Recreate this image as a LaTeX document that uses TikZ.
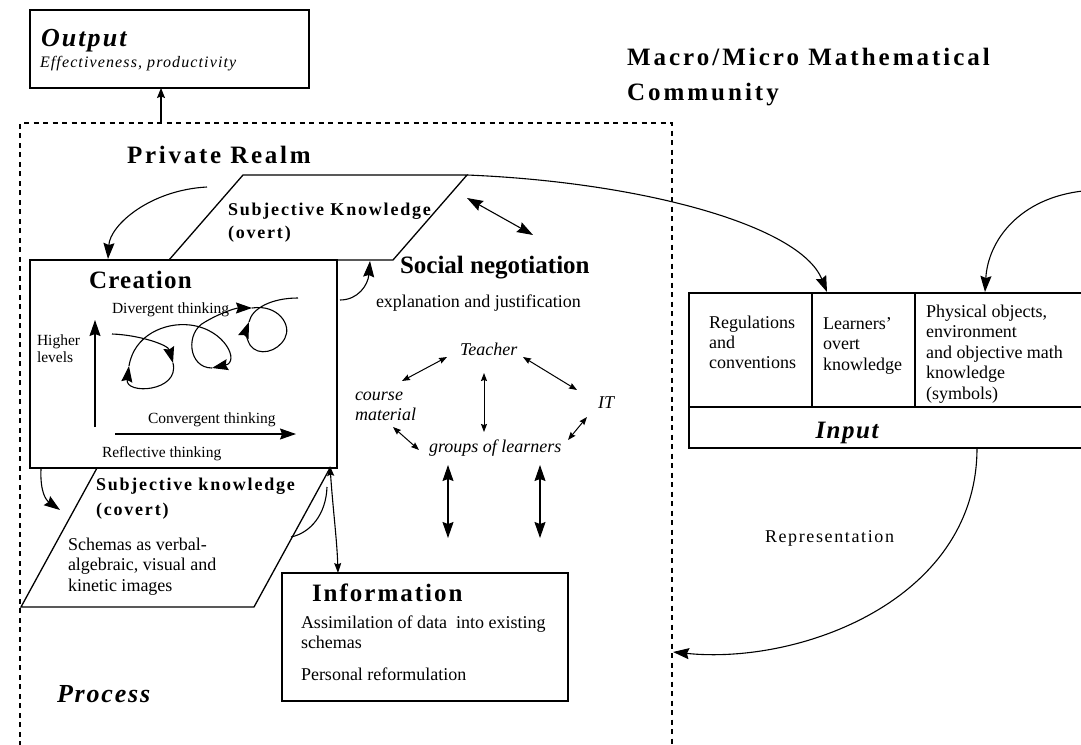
\documentclass[tikz,border=0pt]{standalone}
\usepackage{fontspec}
\setmainfont{Liberation Serif}
\usetikzlibrary{arrows.meta}
\newcommand\fsz[2]{\fontsize{#1}{#2}\selectfont}
\newcommand\mlines[1]{\begin{tabular}[t]{@{}l@{}}#1\end{tabular}}
\tikzset{
  every node/.style={inner sep=0pt, outer sep=0pt},
  txt/.style={anchor=base west},
  boxline/.style={line width=1.3pt},
  frame/.style={line width=1.4pt, dash pattern=on 5pt off 4.5pt},
  conn/.style={line width=1.1pt},
  bigarr/.style={conn, -{Stealth[length=16pt,width=11pt,inset=2pt]}},
  bigdbl/.style={conn, {Stealth[length=16pt,width=11pt,inset=2pt]}-{Stealth[length=16pt,width=11pt,inset=2pt]}},
  medarr/.style={conn, -{Stealth[length=10pt,width=8pt,inset=1.5pt]}},
  meddbl/.style={conn, {Stealth[length=10pt,width=7pt,inset=1.5pt]}-{Stealth[length=10pt,width=7pt,inset=1.5pt]}},
  smldbl/.style={line width=1pt, {Stealth[length=8pt,width=6pt,inset=1pt]}-{Stealth[length=8pt,width=6pt,inset=1pt]}},
  heading/.style={txt, font=\fsz{25}{35}\bfseries\addfontfeatures{LetterSpace=#1}},
  heading/.default=10,
  boldit/.style={txt, font=\fsz{26}{28}\bfseries\itshape\addfontfeatures{LetterSpace=#1}},
  boldit/.default=7,
  subhead/.style={txt, font=\fsz{18}{#1}\bfseries\addfontfeatures{LetterSpace=10}},
  body/.style={txt, font=\fsz{18}{20.5}},
  small/.style={txt, font=\fsz{15.5}{17}},
  soc/.style={txt, font=\fsz{18}{20}\itshape},
}
\begin{document}
\begin{tikzpicture}[x=1pt,y=-1pt]
\useasboundingbox (0,0) rectangle (1081,744);
\clip (0,0) rectangle (1081,744);

% ---------- Output ----------
\node (output) [draw, boxline, minimum width=279pt, minimum height=78pt, anchor=north west] at (30,10) {};
\node (outtitle) [boldit=8] at (41,46) {Output};
\node (outtext) [txt, font=\fsz{16}{18}\itshape\addfontfeatures{LetterSpace=7}] at (40,67) {Effectiveness, productivity};

% ---------- Process frame (open at the bottom) ----------
\coordinate (fbl) at (20,746);
\coordinate (ftl) at (20,123);
\coordinate (ftr) at (672,123);
\coordinate (fbr) at (672,746);
\draw[frame] (fbl) -- (ftl) -- (ftr) -- (fbr);
\coordinate (outfoot) at (161,123);
\draw[medarr] (outfoot) -- (outfoot |- output.south);

\node (private) [heading=11] at (127,163) {Private Realm};
\node (macro) [heading=12] at (627,65) {\mlines{Macro/Micro Mathematical\\Community}};
\node (process) [boldit=7] at (57,702) {Process};

% ---------- Subjective knowledge (overt) ----------
\coordinate (ov1) at (243,175);
\coordinate (ov2) at (467,175);
\coordinate (ov3) at (393,260);
\coordinate (ov4) at (169,260);
\draw[boxline] (ov1) -- (ov2) -- (ov3) -- (ov4) -- cycle;
\node (overt) [subhead=23] at (228,215) {\mlines{Subjective Knowledge\\(overt)}};

% ---------- Creation ----------
\node (creation) [draw, boxline, fill=white, minimum width=307pt, minimum height=208pt, anchor=north west] at (30,260) {};
\node (creatitle) [heading=5] at (89,288) {Creation};
\node (diverg) [small] at (112,313) {Divergent thinking};
\node (higher) [small] at (37,345) {\mlines{Higher\\levels}};
\node (converg) [small] at (148,423) {Convergent thinking};
\node (reflect) [small] at (102,457) {Reflective thinking};

\coordinate (vup0) at (95,427);
\coordinate (vup1) at (95,320);
\draw[bigarr] (vup0) -- (vup1);
\coordinate (hr0) at (115,434);
\coordinate (hr1) at (296,434);
\draw[bigarr] (hr0) -- (hr1);

% spiral of thinking
\coordinate (s0) at (112,334);
\coordinate (s1) at (173,363);
\coordinate (s2) at (129,366);
\coordinate (s3) at (212,368);
\coordinate (s4) at (252,308);
\coordinate (s5) at (249,322);
\coordinate (s6) at (298,298);
\draw[bigarr] (s0) .. controls (140,335) and (168,345) .. (s1);
\draw[bigarr] (s1) .. controls (180,392) and (125,395) .. (s2);
\draw[bigarr] (s2) .. controls (134,335) and (165,322) .. (190,325) .. controls (225,329) and (240,362) .. (s3);
\draw[bigarr] (s3) .. controls (188,368) and (185,332) .. (205,322) .. controls (220,313) and (236,308) .. (s4);
\draw[bigarr] (s4) .. controls (278,304) and (292,325) .. (285,338) .. controls (278,352) and (258,357) .. (250,345) .. controls (246,338) and (246,330) .. (s5);
\draw[conn] (s5) .. controls (252,308) and (272,298) .. (s6);

% arrow from the private realm into creation
\coordinate (pr0) at (207,187);
\coordinate (pr1) at (108,259);
\draw[bigarr] (pr0) .. controls (150,190) and (110,225) .. (pr1);

% ---------- Social negotiation ----------
\node (social) [heading=0] at (400,273) {Social negotiation};
\node (explain) [body] at (376,307) {explanation and justification};
\coordinate (ex0) at (340,300);
\coordinate (ex1) at (370,261);
\draw[bigarr] (ex0) .. controls (358,300) and (368,285) .. (ex1);
\coordinate (on0) at (467,198);
\coordinate (on1) at (533,235);
\draw[bigdbl] (on0) -- (on1);

\node (teacher) [soc] at (460,355) {Teacher};
\node (course) [soc] at (355,400) {\mlines{course\\material}};
\node (it) [soc] at (598,408) {IT};
\node (groups) [soc] at (429,452) {groups of learners};

\coordinate (tc0) at (447,357);
\coordinate (tc1) at (402,381);
\draw[smldbl] (tc0) -- (tc1);
\coordinate (tg0) at (484,373);
\coordinate (tg1) at (484,432);
\draw[smldbl] (tg0) -- (tg1);
\coordinate (ti0) at (523,357);
\coordinate (ti1) at (577,390);
\draw[smldbl] (ti0) -- (ti1);
\coordinate (ig0) at (587,417);
\coordinate (ig1) at (568,440);
\draw[smldbl] (ig0) -- (ig1);
\coordinate (cg0) at (393,427);
\coordinate (cg1) at (419,450);
\draw[smldbl] (cg0) -- (cg1);

\coordinate (ga0) at (448,465);
\coordinate (ga1) at (448,538);
\draw[bigdbl] (ga0) -- (ga1);
\coordinate (gb0) at (540,465);
\coordinate (gb1) at (540,538);
\draw[bigdbl] (gb0) -- (gb1);

% ---------- Subjective knowledge (covert) ----------
\coordinate (cv1) at (97,468);
\coordinate (cv2) at (330,468);
\coordinate (cv3) at (254,607);
\coordinate (cv4) at (21,607);
\draw[boxline] (cv1) -- (cv2) -- (cv3) -- (cv4) -- cycle;
\node (covert) [subhead=25] at (96,490) {\mlines{Subjective knowledge\\(covert)}};
\node (schemas) [body] at (68,550) {\mlines{Schemas as verbal-\\algebraic, visual and\\kinetic images}};
\coordinate (ca0) at (327,487);
\coordinate (ca1) at (291,537);
\draw[conn] (ca0) .. controls (326,515) and (310,533) .. (ca1);
\coordinate (cd0) at (41,469);
\coordinate (cd1) at (60,510);
\draw[bigarr] (cd0) .. controls (40,492) and (46,500) .. (cd1);

% ---------- Information ----------
\node (info) [draw, boxline, minimum width=286pt, minimum height=128pt, anchor=north west] at (282,573) {};
\node (infotitle) [heading=8] at (312,601) {Information};
\node (assim) [txt, font=\fsz{18}{20}] at (301,628) {\mlines{Assimilation of data\ \ into existing\\schemas}};
\node (personal) [body] at (301,680) {Personal reformulation};
\coordinate (if0) at (330,466);
\coordinate (if1) at (338,573);
\draw[meddbl] (if0) .. controls (333,510) and (337,540) .. (if1);

% ---------- Input ----------
\coordinate (in0) at (689,293);
\coordinate (in1) at (1090,407);
\coordinate (in2) at (1090,448);
\draw[boxline] (in0) rectangle (in1);
\draw[boxline] (in0 |- in1) rectangle (in2);
\coordinate (cola) at (812,293);
\coordinate (colb) at (915,293);
\draw[boxline] (cola) -- (cola |- in1);
\draw[boxline] (colb) -- (colb |- in1);
\node (regul) [txt, font=\fsz{18}{20}] at (709,328) {\mlines{Regulations\\and\\conventions}};
\node (learners) [body] at (823,329) {\mlines{Learners’\\overt\\knowledge}};
\node (physical) [body] at (926,317) {\mlines{Physical objects,\\environment\\and objective math\\knowledge\\(symbols)}};
\node (input) [anchor=base, font=\fsz{25}{28}\bfseries\itshape\addfontfeatures{LetterSpace=6}] at (847,438) {Input};

\coordinate (ri0) at (827,292);
\draw[bigarr] (ov2) .. controls (640,182) and (800,225) .. (ri0);
\coordinate (ro0) at (1083,191);
\coordinate (ro1) at (985,292);
\draw[bigarr] (ro0) .. controls (1020,198) and (988,240) .. (ro1);

\node (repr) [txt, font=\fsz{18}{20}\addfontfeatures{LetterSpace=9}] at (765,542) {Representation};
\coordinate (rp0) at (977,448);
\coordinate (rp1) at (673,652);
\draw[bigarr] (rp0) .. controls (977,600) and (800,665) .. (rp1);
\end{tikzpicture}
\end{document}
